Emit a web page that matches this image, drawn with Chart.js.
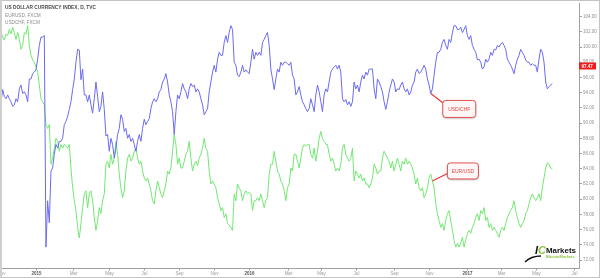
<!DOCTYPE html>
<html>
<head>
<meta charset="utf-8">
<script src="https://cdn.jsdelivr.net/npm/chart.js@4.4.1/dist/chart.umd.min.js"></script>
<style>
  html, body { margin: 0; padding: 0; background: #fff; }
  canvas { display: block; }
</style>
</head>
<body>
<canvas id="myChart" width="600" height="278"></canvas>
<script>
// USD/CHF (blue) and EUR/USD (green), about 2 trading days per point
var usdchf = [
  92.8,94.4,93.5,93.2,93.7,93.2,92.8,92.2,92.4,93.2,92.8,94.5,95.0,93.9,94.1,93.7,92.8,95.8,95.8,96.5,
  96.7,97.0,98.4,100.2,101.3,101.3,101.5,73.7,79.8,76.9,83.7,84.1,85.9,87.2,86.7,87.6,87.6,88.0,89.8,90.2,
  90.9,91.8,92.8,94.4,95.8,98.0,99.7,99.6,95.7,97.1,93.7,93.7,92.8,93.7,92.4,91.3,93.2,95.4,93.5,91.5,
  92.2,94.1,91.8,88.3,88.5,86.3,88.0,87.2,85.4,86.7,88.5,89.3,91.1,90.5,88.9,89.3,88.0,88.5,87.6,88.0,
  87.2,86.3,87.6,88.5,87.6,89.3,90.5,89.8,90.2,90.6,91.9,92.8,93.2,92.8,93.2,94.1,94.4,95.4,95.8,96.5,
  95.4,93.7,92.8,91.5,88.5,91.5,93.7,93.2,94.1,95.2,94.5,94.1,93.2,94.5,95.2,94.8,95.0,94.1,94.5,94.1,
  93.2,92.4,91.1,91.5,91.9,94.1,95.4,96.7,97.6,96.7,98.4,99.3,98.9,98.9,100.6,101.5,100.6,101.9,102.8,102.3,
  98.0,97.6,96.3,96.1,96.7,97.6,96.7,97.0,96.7,96.5,98.0,99.7,98.4,99.3,98.9,99.3,98.9,100.6,101.0,101.5,
  101.9,100.2,97.1,95.8,94.4,95.8,97.1,96.7,98.0,97.6,98.0,98.0,97.8,97.6,98.0,96.3,95.8,93.7,94.1,94.8,
  93.7,92.8,92.4,91.9,91.5,91.9,93.2,92.4,91.5,93.7,95.0,94.1,92.8,91.5,93.7,94.5,94.1,95.4,96.7,97.1,
  97.4,97.6,97.1,97.6,96.7,93.2,92.8,93.1,92.4,92.8,92.2,92.8,95.4,94.5,95.0,94.1,95.4,96.3,95.8,96.7,
  96.3,97.1,97.1,97.1,94.5,93.2,95.8,95.4,94.8,94.1,92.8,91.8,92.8,94.1,95.0,95.8,95.4,94.1,94.5,94.4,
  95.0,95.4,94.5,94.1,94.5,93.7,94.1,95.0,95.4,96.7,97.1,96.5,96.7,97.1,97.6,97.1,95.8,95.0,93.9,94.5,
  96.3,98.0,99.3,99.3,99.7,100.6,101.0,100.2,99.7,101.0,100.6,101.9,102.8,102.8,102.3,102.3,102.6,101.9,102.3,102.8,
  101.5,101.0,101.5,100.2,99.7,99.3,98.3,98.4,98.0,97.1,97.4,98.4,98.0,98.4,99.3,98.9,99.7,99.6,100.2,100.0,
  100.4,100.6,100.2,99.7,98.4,98.0,97.6,97.1,96.5,97.6,98.4,98.9,99.7,99.3,98.9,98.3,98.0,98.0,97.6,97.8,
  97.6,97.6,96.7,98.4,99.7,99.3,98.0,95.4,94.5,94.8,95.0,95.2
];
var eurusd = [
  101.9,101.3,100.9,101.7,101.5,102.3,101.7,102.6,101.9,101.0,101.9,101.0,99.7,100.2,101.9,101.7,102.8,100.2,98.9,98.3,
  98.0,97.4,96.7,95.0,93.2,92.8,92.4,89.8,89.3,89.8,84.6,85.4,86.7,88.0,87.6,86.3,87.2,86.7,87.2,87.0,
  86.7,87.2,84.1,81.5,79.8,78.5,76.3,74.9,76.8,78.9,80.7,81.1,78.9,80.7,81.1,79.8,77.6,75.9,77.2,78.9,
  78.1,79.8,80.7,84.6,85.0,84.1,85.9,84.6,85.4,87.6,85.9,83.3,81.5,80.2,81.1,83.7,85.4,85.9,85.0,85.4,
  86.3,86.7,85.4,84.6,85.0,83.7,82.8,82.4,82.8,82.0,81.1,79.8,79.4,81.1,82.4,81.5,80.7,80.2,81.1,82.0,
  83.7,83.3,84.1,86.3,88.5,87.2,84.6,85.4,84.1,84.1,85.0,85.9,86.3,87.6,85.4,83.7,84.6,85.0,84.4,85.4,
  85.9,86.7,88.0,86.7,86.3,83.7,82.0,82.4,82.0,81.5,80.2,79.4,78.5,78.9,77.6,78.1,76.8,76.6,76.3,75.9,
  80.7,79.8,82.0,81.5,81.1,79.8,80.7,81.1,80.7,80.9,80.7,78.5,79.8,79.8,80.2,79.8,80.7,79.8,78.9,79.8,
  80.2,83.3,84.6,84.6,86.3,85.0,83.7,83.3,82.4,82.0,81.1,79.8,81.5,82.0,84.1,83.7,85.9,85.9,85.0,84.1,
  85.4,86.7,87.2,87.0,87.2,87.2,85.9,85.4,86.7,85.0,86.3,88.0,88.9,88.0,87.6,87.2,87.2,85.9,85.0,85.4,
  84.6,83.7,84.1,83.7,84.6,86.7,87.2,85.9,85.4,85.0,85.4,86.7,82.4,83.7,83.3,82.8,83.3,82.4,82.8,82.0,
  82.0,81.5,82.0,82.8,84.6,84.1,83.3,83.7,83.7,85.4,86.3,85.9,85.4,85.0,84.1,85.0,83.7,84.6,85.4,84.6,
  83.7,85.0,84.6,85.4,84.6,85.0,84.6,84.1,83.3,82.0,82.8,81.5,81.1,81.5,80.2,80.7,81.5,82.8,83.3,82.4,
  81.5,79.4,78.1,77.2,76.3,76.8,75.9,77.2,78.1,78.5,77.2,75.9,74.6,73.7,74.2,73.7,74.2,75.0,73.7,74.6,
  75.5,75.9,75.5,76.3,76.8,77.6,78.1,77.2,78.5,78.1,78.9,77.2,77.6,76.3,76.8,75.9,76.3,75.9,75.5,75.0,
  75.9,76.3,75.9,76.8,77.6,78.1,78.5,78.9,79.8,78.5,77.6,76.8,76.3,76.8,77.2,78.1,78.5,79.4,80.2,80.7,
  80.2,79.8,80.2,80.7,79.8,81.5,82.8,84.1,84.8,84.6,84.1,84.0
];

// x axis: month labels and the point they sit on (axis runs on past the last point)
var tickNames = ['Nov','2015','Mar','May','Jul','Sep','Nov','2016','Mar','May','Jul','Sep','Nov','2017','Mar','May','Jul'];
var tickAt = [0,21,43,65,86,107,128,149,172,192,213,236,257,280,300,321,344];
var barCount = 348;

var yTicks = [72,74,76,78,80,82,84,86,88,90,92,94,96,98,100,102,104];
var lastPrice = 97.47;

var labels = new Array();
for (var i = 0; i < barCount; i++) labels.push('');
for (var j = 0; j < tickNames.length; j++) labels[tickAt[j]] = tickNames[j];

var FONT = '"Liberation Sans", Arial, sans-serif';

function roundBox(ctx, x, y, w, h, r) {
	ctx.beginPath();
	ctx.moveTo(x + r, y);
	ctx.lineTo(x + w - r, y);
	ctx.quadraticCurveTo(x + w, y, x + w, y + r);
	ctx.lineTo(x + w, y + h - r);
	ctx.quadraticCurveTo(x + w, y + h, x + w - r, y + h);
	ctx.lineTo(x + r, y + h);
	ctx.quadraticCurveTo(x, y + h, x, y + h - r);
	ctx.lineTo(x, y + r);
	ctx.quadraticCurveTo(x, y, x + r, y);
	ctx.closePath();
}

// red note box with a leader line to the point (ax, ay)
function callout(ctx, ax, ay, dx, dy, w, h, text) {
	var bx = ax + dx, by = ay + dy;
	ctx.strokeStyle = '#e03a3a';
	ctx.lineWidth = 1.2;
	ctx.beginPath();
	ctx.moveTo(ax, ay);
	ctx.lineTo(bx + 1, by + (dy > 0 ? 3 : h - 6));
	ctx.stroke();

	ctx.save();
	ctx.shadowColor = 'rgba(0,0,0,0.3)';
	ctx.shadowBlur = 2;
	ctx.shadowOffsetY = 1;
	roundBox(ctx, bx, by, w, h, 3);
	ctx.fillStyle = '#fff7f7';
	ctx.fill();
	ctx.restore();
	roundBox(ctx, bx, by, w, h, 3);
	ctx.strokeStyle = '#e05050';
	ctx.lineWidth = 1;
	ctx.stroke();

	ctx.fillStyle = '#e44848';
	ctx.font = '5px ' + FONT;
	ctx.textAlign = 'center';
	ctx.textBaseline = 'middle';
	ctx.fillText(text, bx + w / 2, by + h / 2 + 0.5);
}

var decor = {
	id: 'decor',
	afterDraw: function(chart) {
		var ctx = chart.ctx, area = chart.chartArea;
		var xs = chart.scales.x, ys = chart.scales.y;
		ctx.save();

		// bottom axis line, ticks and month labels
		ctx.strokeStyle = '#a0a0a0';
		ctx.lineWidth = 1;
		ctx.beginPath();
		ctx.moveTo(area.left, area.bottom + 0.5);
		ctx.lineTo(area.right + 1, area.bottom + 0.5);
		ctx.stroke();
		ctx.textAlign = 'center';
		ctx.textBaseline = 'middle';
		for (var j = 0; j < tickNames.length; j++) {
			var x = Math.round(xs.getPixelForValue(tickAt[j])) + 0.5;
			ctx.beginPath();
			ctx.moveTo(x, area.bottom);
			ctx.lineTo(x, area.bottom + 2.5);
			ctx.strokeStyle = '#a0a0a0';
			ctx.stroke();
			var isYear = /^\d{4}$/.test(tickNames[j]);
			ctx.fillStyle = isYear ? '#555' : '#999';
			ctx.font = (isYear ? 'bold ' : '') + '4.5px ' + FONT;
			ctx.fillText(labels[tickAt[j]], x, area.bottom + 5.5);
		}

		// last price tag on the right axis
		var py = Math.round(ys.getPixelForValue(lastPrice));
		ctx.fillStyle = '#f01c1c';
		ctx.fillRect(area.right, py - 3.5, 17, 7);
		ctx.fillStyle = '#fff';
		ctx.font = 'bold 4.5px ' + FONT;
		ctx.textAlign = 'left';
		ctx.fillText(lastPrice.toFixed(2), area.right + 2.5, py + 0.3);

		// title and symbol lines
		ctx.textBaseline = 'middle';
		ctx.fillStyle = '#4a4a4a';
		ctx.font = 'bold 4.8px ' + FONT;
		ctx.fillText('US DOLLAR CURRENCY INDEX, D, TVC', 5, 8);
		ctx.fillStyle = '#8a8a8a';
		ctx.font = '4.7px ' + FONT;
		ctx.fillText('EURUSD, FXCM', 5, 15.5);
		ctx.fillText('USDCHF, FXCM', 5, 23);

		// notes
		callout(ctx, xs.getPixelForValue(258), ys.getPixelForValue(usdchf[258]), 12, 7, 33, 17, 'USD/CHF');
		callout(ctx, xs.getPixelForValue(259), ys.getPixelForValue(eurusd[259]), 15, -18, 31, 16, 'EUR/USD');

		// logo
		ctx.strokeStyle = '#111';
		ctx.lineWidth = 1.6;
		ctx.beginPath();
		ctx.moveTo(525, 262);
		ctx.quadraticCurveTo(531, 256, 541, 256);
		ctx.stroke();
		ctx.textBaseline = 'alphabetic';
		ctx.textAlign = 'left';
		ctx.font = 'bold italic 11px ' + FONT;
		ctx.fillStyle = '#111';
		ctx.fillText('I', 535, 254);
		ctx.fillStyle = '#8cc63f';
		ctx.fillText('C', 538, 254);
		ctx.fillStyle = '#111';
		ctx.font = 'bold 8px ' + FONT;
		ctx.fillText('Markets', 546, 252.5, 30);
		ctx.fillStyle = '#8cc63f';
		ctx.font = 'bold 4px ' + FONT;
		ctx.fillText('BitcoinMarkets', 546, 258, 29);

		// frame
		ctx.strokeStyle = '#c4c4c4';
		ctx.lineWidth = 1;
		ctx.strokeRect(0.5, 0.5, chart.width - 1, chart.height - 1);
		ctx.fillStyle = '#cfcfcf';
		ctx.fillRect(0, 0, 2, chart.height);
		ctx.restore();
	}
};

var ctx1 = document.getElementById('myChart').getContext('2d');
new Chart(ctx1, {
	type: 'line',
	data: {
		labels: labels,
		datasets: [
			{ label: 'USD/CHF', data: usdchf, borderColor: '#6b6bf2', borderWidth: 1, pointRadius: 0, tension: 0, fill: false },
			{ label: 'EUR/USD', data: eurusd, borderColor: '#72e872', borderWidth: 1, pointRadius: 0, tension: 0, fill: false }
		]
	},
	options: {
		responsive: false,
		animation: false,
		devicePixelRatio: 1,
		layout: { padding: { left: 1, top: 1, right: 0, bottom: 10 } },
		plugins: { legend: { display: false }, tooltip: { enabled: false } },
		scales: {
			x: { display: false },
			y: {
				position: 'right',
				min: 70.96,
				max: 105.69,
				afterBuildTicks: function(axis) {
					axis.ticks = yTicks.map(function(v) { return { value: v }; });
				},
				afterFit: function(axis) { axis.width = 21; },
				grid: { display: true, drawOnChartArea: false, drawTicks: true, tickLength: 3, color: '#a0a0a0' },
				border: { display: true, color: '#a0a0a0' },
				ticks: {
					color: '#909090',
					padding: 1,
					font: { size: 4.5, family: FONT },
					callback: function(v) { return Number(v).toFixed(2); }
				}
			}
		}
	},
	plugins: [decor]
});
</script>
</body>
</html>
